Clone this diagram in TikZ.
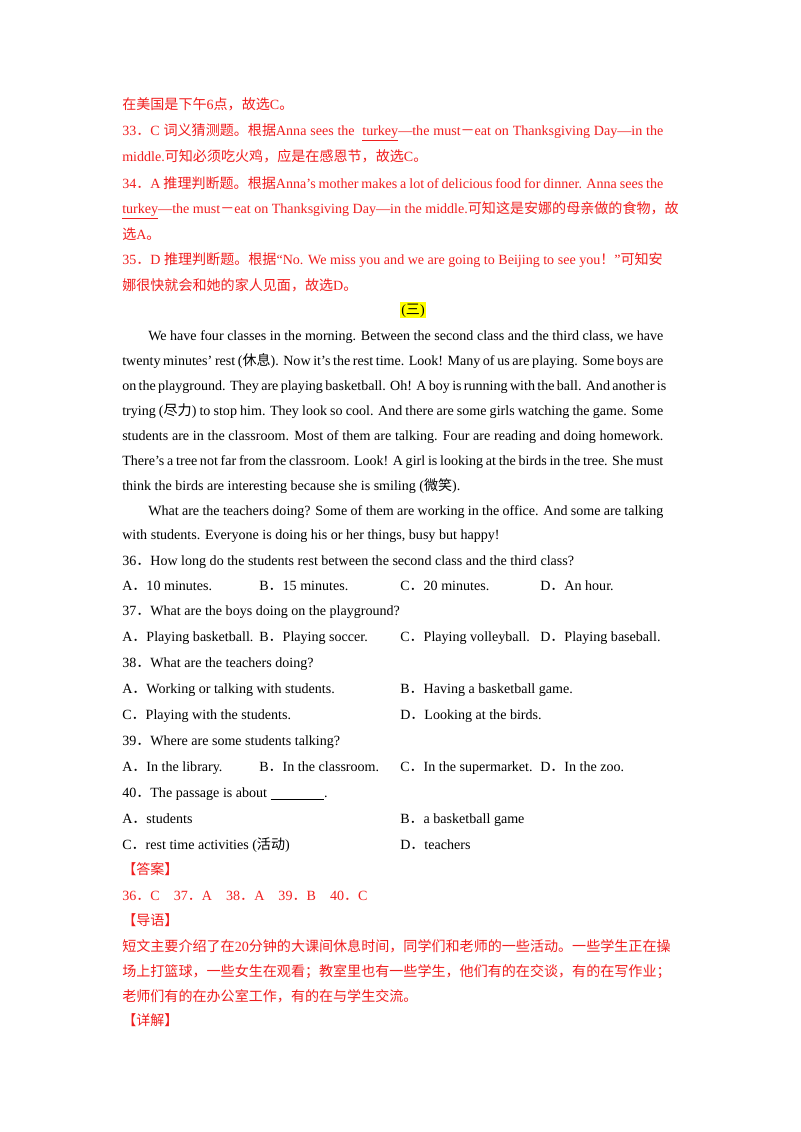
\documentclass[tikz,border=0pt]{standalone}
\usepackage{fontspec}
\setmainfont{Liberation Serif}
\newfontfamily\cjk{Noto Sans CJK SC}
\usepackage{xcolor}
\definecolor{ansred}{RGB}{240,30,30}
\definecolor{hiyellow}{RGB}{255,255,0}
\newcommand\zh[1]{{\cjk #1}}
\newlength\linew
\setlength\linew{14.2cm}
\newcommand\fullline[1]{\hbox to \linew{#1}}
\tikzset{%
  % styles for the lines of text
        txt/.style = {anchor=base west, inner sep=0pt,
                      font=\fontsize{10.5pt}{12pt}\selectfont},
        ans/.style = {txt, text=ansred},
  highlight/.style = {anchor=base, inner sep=1pt, fill=hiyellow,
                      font=\fontsize{10.5pt}{12pt}\selectfont},
}
\begin{document}
\begin{tikzpicture}[x=0.02625cm, y=-0.02625cm]
  \useasboundingbox (0,0) rectangle (800,1132);
  % explanation of 33--35
  \node[ans] (r1) at (122,109) {\zh{在美国是下午}6\zh{点，故选}C\zh{。}};
  \node[ans] (q33a) at (122,135) {\fullline{33\zh{．}C \zh{词义猜测题。根据}Anna sees the \ \underline{turkey}---the must\zh{－}eat on Thanksgiving Day---in the}};
  \node[ans] (q33b) at (122,161) {middle.\zh{可知必须吃火鸡，应是在感恩节，故选}C\zh{。}};
  \node[ans] (q34a) at (122,188) {\fullline{34\zh{．}A \zh{推理判断题。根据}Anna's mother makes a lot of delicious food for dinner. Anna sees the}};
  \node[ans] (q34b) at (122,213) {\underline{turkey}---the must\zh{－}eat on Thanksgiving Day---in the middle.\zh{可知这是安娜的母亲做的食物，故}};
  \node[ans] (q34c) at (122,239) {\zh{选}A\zh{。}};
  \node[ans] (q35a) at (122,264) {35\zh{．}D \zh{推理判断题。根据}“No. We miss you and we are going to Beijing to see you\zh{！}”\zh{可知安}};
  \node[ans] (q35b) at (122,290) {\zh{娜很快就会和她的家人见面，故选}D\zh{。}};
  \node[highlight] (title) at (413,314) {(\zh{三})};
  % passage
  \node[txt] (p1) at (148,340) {\hbox to 13.52cm{We have four classes in the morning. Between the second class and the third class, we have}};
  \node[txt] (p2) at (122,365) {\fullline{twenty minutes' rest (\zh{休息}). Now it's the rest time. Look! Many of us are playing. Some boys are}};
  \node[txt] (p3) at (122,390) {\fullline{on the playground. They are playing basketball. Oh! A boy is running with the ball. And another is}};
  \node[txt] (p4) at (122,415) {\fullline{trying (\zh{尽力}) to stop him. They look so cool. And there are some girls watching the game. Some}};
  \node[txt] (p5) at (122,440) {\fullline{students are in the classroom. Most of them are talking. Four are reading and doing homework.}};
  \node[txt] (p6) at (122,465) {\fullline{There's a tree not far from the classroom. Look! A girl is looking at the birds in the tree. She must}};
  \node[txt] (p7) at (122,490) {think the birds are interesting because she is smiling (\zh{微笑}).};
  \node[txt] (p8) at (148,515) {\hbox to 13.52cm{What are the teachers doing? Some of them are working in the office. And some are talking}};
  \node[txt] (p9) at (122,539) {with students. Everyone is doing his or her things, busy but happy!};
  % questions 36--40
  \node[txt] (q36) at (122,565) {36\zh{．}How long do the students rest between the second class and the third class?};
  \node[txt] (q36a) at (122,590) {A\zh{．}10 minutes.};
  \node[txt] (q36b) at (259,590) {B\zh{．}15 minutes.};
  \node[txt] (q36c) at (400,590) {C\zh{．}20 minutes.};
  \node[txt] (q36d) at (540,590) {D\zh{．}An hour.};
  \node[txt] (q37) at (122,615) {37\zh{．}What are the boys doing on the playground?};
  \node[txt] (q37a) at (122,641) {A\zh{．}Playing basketball.};
  \node[txt] (q37b) at (259,641) {B\zh{．}Playing soccer.};
  \node[txt] (q37c) at (400,641) {C\zh{．}Playing volleyball.};
  \node[txt] (q37d) at (540,641) {D\zh{．}Playing baseball.};
  \node[txt] (q38) at (122,667) {38\zh{．}What are the teachers doing?};
  \node[txt] (q38a) at (122,693) {A\zh{．}Working or talking with students.};
  \node[txt] (q38b) at (400,693) {B\zh{．}Having a basketball game.};
  \node[txt] (q38c) at (122,719) {C\zh{．}Playing with the students.};
  \node[txt] (q38d) at (400,719) {D\zh{．}Looking at the birds.};
  \node[txt] (q39) at (122,745) {39\zh{．}Where are some students talking?};
  \node[txt] (q39a) at (122,771) {A\zh{．}In the library.};
  \node[txt] (q39b) at (259,771) {B\zh{．}In the classroom.};
  \node[txt] (q39c) at (400,771) {C\zh{．}In the supermarket.};
  \node[txt] (q39d) at (540,771) {D\zh{．}In the zoo.};
  \node[txt] (q40) at (122,797) {40\zh{．}The passage is about \underline{\hspace{1.4cm}}.};
  \node[txt] (q40a) at (122,823) {A\zh{．}students};
  \node[txt] (q40b) at (400,823) {B\zh{．}a basketball game};
  \node[txt] (q40c) at (122,849) {C\zh{．}rest time activities (\zh{活动})};
  \node[txt] (q40d) at (400,849) {D\zh{．}teachers};
  % answers and guide
  \node[ans] (key) at (122,874) {\zh{【答案】}};
  \node[ans] (keys) at (122,900) {36\zh{．}C\quad 37\zh{．}A\quad 38\zh{．}A\quad 39\zh{．}B\quad 40\zh{．}C};
  \node[ans] (guide) at (122,925) {\zh{【导语】}};
  \node[ans] (g1) at (122,951) {\zh{短文主要介绍了在}20\zh{分钟的大课间休息时间，同学们和老师的一些活动。一些学生正在操}};
  \node[ans] (g2) at (122,976) {\zh{场上打篮球，一些女生在观看；教室里也有一些学生，他们有的在交谈，有的在写作业；}};
  \node[ans] (g3) at (122,1001) {\zh{老师们有的在办公室工作，有的在与学生交流。}};
  \node[ans] (detail) at (122,1025) {\zh{【详解】}};
\end{tikzpicture}
\end{document}
